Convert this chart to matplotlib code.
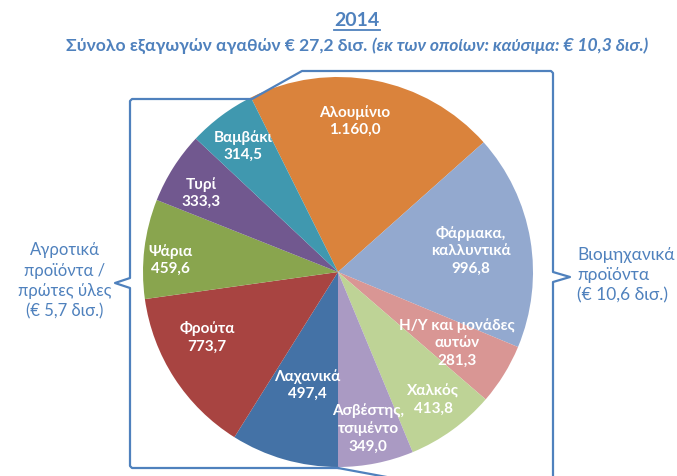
import matplotlib.pyplot as plt
import numpy as np

W, H = 677, 476

# data: exports 2014 (million EUR), clockwise from Αλουμίνιο
names = ["Αλουμίνιο", "Φάρμακα,\nκαλλυντικά", "Η/Υ και μονάδες\nαυτών", "Χαλκός",
         "Ασβέστης,\nτσιμέντο", "Λαχανικά", "Φρούτα", "Ψάρια", "Τυρί", "Βαμβάκι"]
values = [1160.0, 996.8, 281.3, 413.8, 349.0, 497.4, 773.7, 459.6, 333.3, 314.5]
n_industrial = 5
colors = ["#DA833C", "#93A9CF", "#D99694", "#BED396", "#AA9AC3",
          "#4472A6", "#A84441", "#89A54E", "#71588F", "#4098AF"]

title = "2014"
subtitle_a = "Σύνολο εξαγωγών αγαθών € 27,2 δισ. "
subtitle_b = "(εκ των οποίων: καύσιμα: € 10,3 δισ.)"
left_group = "Αγροτικά\nπροϊόντα /\nπρώτες ύλες\n(€ 5,7 δισ.)"
right_group = "Βιομηχανικά\nπροϊόντα\n(€ 10,6 δισ.)"

# label placement (fraction of radius, angle nudge in degrees)
label_r = [0.78, 0.69, 0.71, 0.82, 0.815, 0.60, 0.75, 0.86, 0.81, 0.81]
label_dt = [4.5, -0.5, 1.0, 0.7, -0.4, 0.7, -6.3, 2.8, 2.4, 0.4]

BLUE = "#4F81BD"
plt.rcParams["font.family"] = ["Lato", "Noto Sans", "DejaVu Sans"]


def gr_num(v):
    s = f"{v:,.1f}"
    return s.replace(",", "X").replace(".", ",").replace("X", ".")


fig = plt.figure(figsize=(W / 100, H / 100), dpi=100)
ax = fig.add_axes([0, 0, 1, 1])

cx, cy, R = 338, H - 272, 195
total = sum(values)
start = 90 + 360 * sum(values[:n_industrial]) / total - 180
wedges, _ = ax.pie(values, colors=colors, startangle=start, counterclock=False,
                   center=(cx, cy), radius=R, wedgeprops=dict(linewidth=0))
ax.set_xlim(0, W)
ax.set_ylim(0, H)
ax.set_aspect("equal")
ax.axis("off")

for w, name, v, rf, dt in zip(wedges, names, values, label_r, label_dt):
    a = np.deg2rad((w.theta1 + w.theta2) / 2 + dt)
    x = cx + rf * R * np.cos(a)
    y = cy + rf * R * np.sin(a)
    ax.text(x, y, f"{name}\n{gr_num(v)}", ha="center", va="center", color="white",
            fontsize=11, fontweight="bold", linespacing=1.3)

# brackets
br_x = [338, 132, 130, 130, 115, 130, 130, 132, 252, 302, 551, 553, 553, 570, 553, 553]
br_y = [468, 468, 466, 288, 283, 278, 101, 99, 99, 71, 71, 73, 272, 277, 282, 480]
ax.plot(br_x, [H - y for y in br_y], color=BLUE, lw=1.6, solid_joinstyle="round")
ax.plot([338, 392], [H - 468, H - 478], color=BLUE, lw=1.6)

# titles
t = ax.text(357, H - 20, title, ha="center", va="center", color=BLUE,
            fontsize=14, fontweight="bold")
r = fig.canvas.get_renderer()
bb = t.get_window_extent(r)
ax.plot([bb.x0, bb.x1], [bb.y0 - 1, bb.y0 - 1], color=BLUE, lw=1.3)

sa = ax.text(0, H - 46, subtitle_a, ha="left", va="center", color=BLUE,
             fontsize=12.6, fontweight="bold")
sb = ax.text(0, H - 46, subtitle_b, ha="left", va="center", color=BLUE,
             fontsize=12.6, fontweight="bold", style="italic")
wa = sa.get_window_extent(r).width
wb = sb.get_window_extent(r).width
x0 = 357 - (wa + wb) / 2
sa.set_x(x0)
sb.set_x(x0 + wa)

ax.text(65, H - 281, left_group, ha="center", va="center", color=BLUE,
        fontsize=12, linespacing=1.35)
ax.text(577, H - 275, right_group, ha="left", va="center", color=BLUE,
        fontsize=12.5, linespacing=1.3)

fig.savefig("out.png", dpi=100)
